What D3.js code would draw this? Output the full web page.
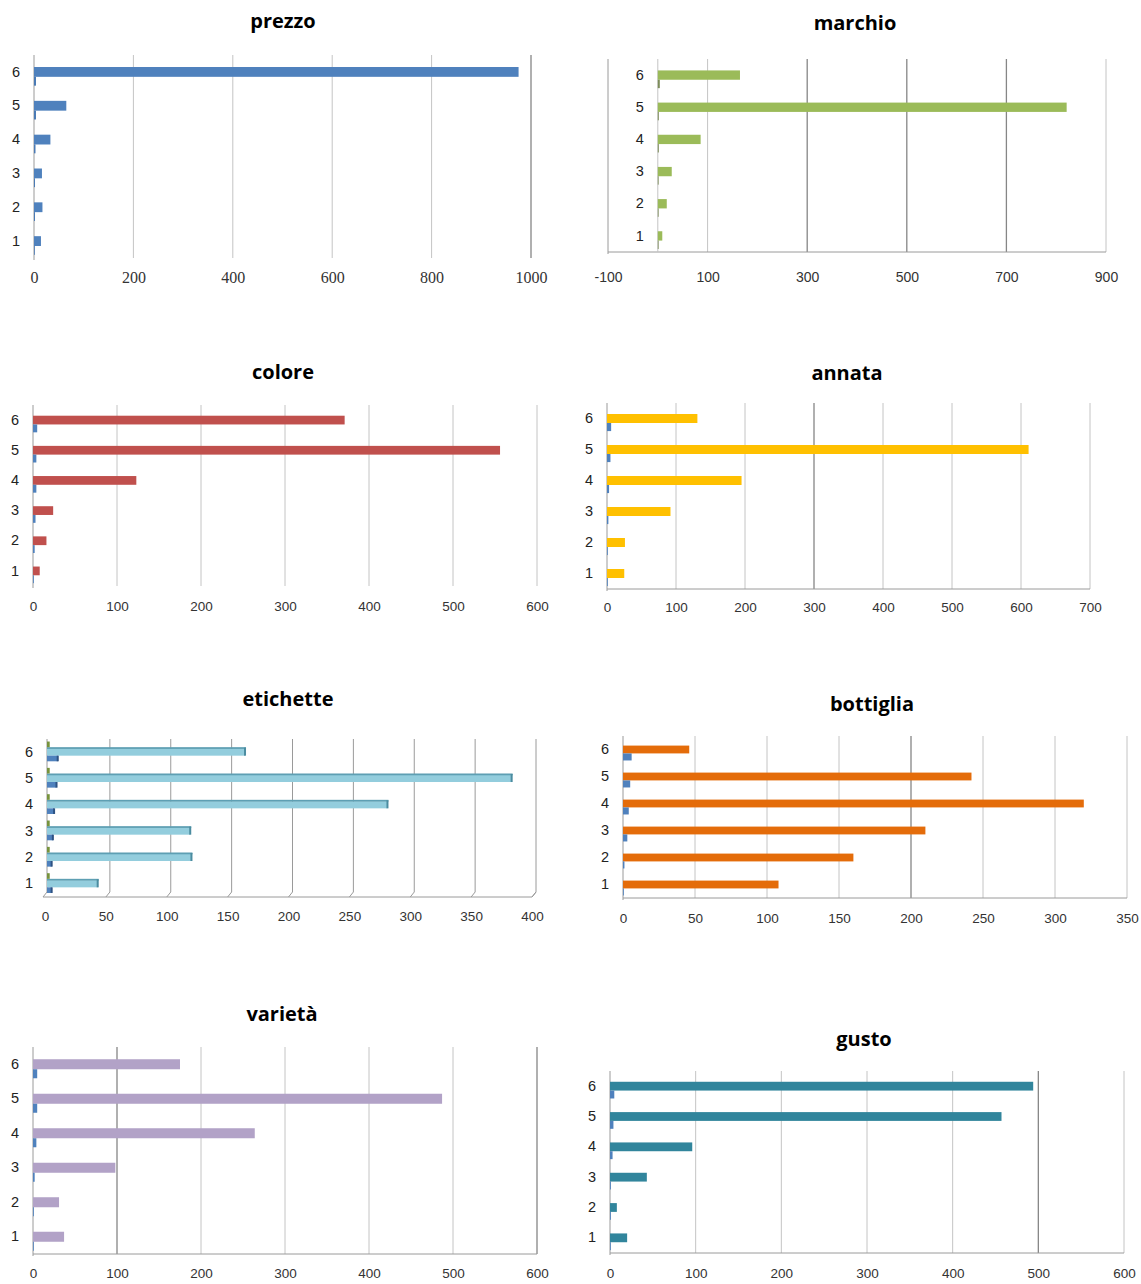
<!DOCTYPE html>
<html>
<head>
<meta charset="utf-8">
<script src="https://cdn.jsdelivr.net/npm/d3@7"></script>
<style>
  body { margin: 0; background: #fff; }
  text { font-family: "Liberation Sans", Arial, sans-serif; }
</style>
</head>
<body>
<svg id="chart" width="1141" height="1284"></svg>
<script>
// Scores 1..6
const categories = ["1", "2", "3", "4", "5", "6"];

// Main series per attribute (score 1..6)
const prezzo    = [14, 17, 16, 33, 65, 975];
const marchio   = [9, 18, 28, 86, 821, 165];
const colore    = [8, 16, 24, 123, 556, 371];
const annata    = [25, 26, 92, 195, 611, 131];
const etichette = [40, 117, 116, 278, 380, 161];
const bottiglia = [108, 160, 210, 320, 242, 46];
const varieta   = [37, 31, 98, 264, 487, 175];
const gusto     = [20, 8, 43, 96, 457, 494];

// Small companion series per attribute
const prezzoB    = [1, 2, 2, 3, 4, 4];
const marchioB   = [0, 0, 1, 2, 2, 4];
const coloreB    = [1, 2, 3, 4, 4, 5];
const annataB    = [0, 1, 2, 3, 5, 6];
const etichetteB = [3, 3, 4, 5, 7, 8];
const etichetteC = [1, 1, 1, 1, 1, 1];
const bottigliaB = [0, 1, 3, 4, 5, 6];
const varietaB   = [0, 1, 2, 4, 5, 5];
const gustoB     = [0, 1, 1, 3, 4, 5];

// Axis tick values
const ticks1000 = [0, 200, 400, 600, 800, 1000];
const ticksMarchio = [-100, 100, 300, 500, 700, 900];
const ticks600 = [0, 100, 200, 300, 400, 500, 600];
const ticks700 = [0, 100, 200, 300, 400, 500, 600, 700];
const ticks400 = [0, 50, 100, 150, 200, 250, 300, 350, 400];
const ticks350 = [0, 50, 100, 150, 200, 250, 300, 350];

const serifTicks = "'Liberation Serif', 'DejaVu Serif', serif";
const sansTicks = "'Liberation Sans', Arial, sans-serif";

const panels = [
  { title: "prezzo", main: prezzo, small: prezzoB, color: "#4F81BD", smallColor: "#4A7AB5",
    domain: [0, 1000], ticks: ticks1000, x0: 34, x1: 531, top: 55, bottom: 258,
    titleX: 283, titleY: 20, tickY: 277, dark: [1000], baseline: false, tickFont: serifTicks, tickSize: 16 },
  { title: "marchio", main: marchio, small: marchioB, color: "#9BBB59", smallColor: "#7D8C5A",
    domain: [-100, 900], ticks: ticksMarchio, x0: 608, x1: 1106, top: 59, bottom: 252,
    titleX: 855, titleY: 22, tickY: 277, dark: [300, 500, 700], baseline: true, zeroLine: true, tickFont: sansTicks, tickSize: 14 },
  { title: "colore", main: colore, small: coloreB, color: "#C0504D", smallColor: "#4F81BD",
    domain: [0, 600], ticks: ticks600, x0: 33, x1: 537, top: 405, bottom: 586,
    titleX: 283, titleY: 371, tickY: 606, dark: [], baseline: false, tickFont: sansTicks, tickSize: 13.5 },
  { title: "annata", main: annata, small: annataB, color: "#FFC000", smallColor: "#4F81BD",
    domain: [0, 700], ticks: ticks700, x0: 607, x1: 1090, top: 403, bottom: 589,
    titleX: 847, titleY: 372, tickY: 607, dark: [300], baseline: true, tickFont: sansTicks, tickSize: 13.5 },
  { title: "etichette", main: etichette, small: etichetteB, third: etichetteC, color: "#93CDDD", smallColor: "#4F81BD",
    domain: [0, 400], ticks: ticks400, x0: 49, x1: 536, top: 739, bottom: 897,
    titleX: 288, titleY: 698, tickY: 916, dark: [], baseline: true, threeD: true, tickFont: sansTicks, tickSize: 13.5 },
  { title: "bottiglia", main: bottiglia, small: bottigliaB, color: "#E46C0A", smallColor: "#4F81BD",
    domain: [0, 350], ticks: ticks350, x0: 623, x1: 1127, top: 736, bottom: 898,
    titleX: 872, titleY: 703, tickY: 918, dark: [200], baseline: true, tickFont: sansTicks, tickSize: 13.5 },
  { title: "varietà", main: varieta, small: varietaB, color: "#B2A2C7", smallColor: "#4F81BD",
    domain: [0, 600], ticks: ticks600, x0: 33, x1: 537, top: 1047, bottom: 1254,
    titleX: 282, titleY: 1013, tickY: 1273, dark: [100, 600], baseline: true, tickFont: sansTicks, tickSize: 13.5 },
  { title: "gusto", main: gusto, small: gustoB, color: "#31859C", smallColor: "#4F81BD",
    domain: [0, 600], ticks: ticks600, x0: 610, x1: 1124, top: 1071, bottom: 1253,
    titleX: 864, titleY: 1038, tickY: 1273, dark: [500], baseline: true, tickFont: sansTicks, tickSize: 13.5 }
];

const svg = d3.select("#chart");

panels.forEach(p => {
  const g = svg.append("g").attr("class", "panel");
  const x = d3.scaleLinear().domain(p.domain).range([p.x0, p.x1]);
  const y = d3.scaleBand().domain(categories.slice().reverse()).range([p.top, p.bottom]);
  const h = y.step() * 0.29;
  const zero = x(0);
  const slant = p.threeD ? 4 : 0;
  const floorY = p.bottom - (p.threeD ? 5 : 0);

  // title
  g.append("text")
    .attr("x", p.titleX).attr("y", p.titleY)
    .attr("text-anchor", "middle").attr("dominant-baseline", "central")
    .style("font-family", "'Open Sans', sans-serif")
    .style("font-weight", "bold").style("font-size", "20px").attr("fill", "#000")
    .text(p.title);

  // gridlines
  const grid = g.append("g");
  p.ticks.forEach(t => {
    if (t === p.domain[0]) return;
    const isDark = p.dark.includes(t);
    const col = p.threeD ? "#9a9a9a" : (isDark ? "#868686" : "#c4c4c4");
    if (p.threeD) {
      grid.append("path")
        .attr("d", `M${x(t)},${p.top}V${floorY}L${x(t) - slant},${p.bottom}`)
        .attr("fill", "none").attr("stroke", col).attr("stroke-width", 1);
    } else {
      grid.append("line")
        .attr("x1", x(t)).attr("x2", x(t)).attr("y1", p.top).attr("y2", p.bottom)
        .attr("stroke", col).attr("stroke-width", isDark ? 1.3 : 1);
    }
  });

  // axis lines
  const axisCol = "#9a9a9a";
  if (p.threeD) {
    g.append("path")
      .attr("d", `M${x(p.domain[0]) - 2},${p.top}V${floorY}L${x(p.domain[0]) - 2 - slant},${p.bottom}H${p.x1 - slant}L${p.x1},${floorY}`)
      .attr("fill", "none").attr("stroke", axisCol);
  } else {
    g.append("line")
      .attr("x1", p.x0).attr("x2", p.x0).attr("y1", p.top).attr("y2", p.bottom + 2)
      .attr("stroke", axisCol);
    if (p.baseline) {
      g.append("line")
        .attr("x1", p.x0).attr("x2", p.x1).attr("y1", p.bottom).attr("y2", p.bottom)
        .attr("stroke", axisCol);
    }
  }
  if (p.zeroLine) {
    g.append("line")
      .attr("x1", zero).attr("x2", zero).attr("y1", p.top).attr("y2", p.bottom)
      .attr("stroke", "#c4c4c4");
  }

  // value axis labels (plain hyphen for negatives)
  const xAxis = d3.axisBottom(x).tickValues(p.ticks).tickSize(0).tickPadding(0).tickFormat(d => String(d));
  const ax = g.append("g").attr("transform", `translate(${-slant},${p.tickY})`).call(xAxis);
  ax.select(".domain").remove();
  ax.selectAll("text")
    .attr("y", 0).attr("dy", "0.35em")
    .style("font-family", p.tickFont)
    .style("font-size", p.tickSize + "px").attr("fill", "#333");

  // category labels
  const yAxis = d3.axisLeft(y).tickSize(0).tickPadding(0);
  const ay = g.append("g").attr("transform", `translate(${zero - 14 - slant / 2},0)`).call(yAxis);
  ay.select(".domain").remove();
  ay.selectAll("text")
    .style("font-family", "'Liberation Sans', Arial, sans-serif")
    .style("font-size", "14.5px").attr("fill", "#222");

  // bars
  const bars = g.append("g");
  const baseX = p.threeD ? zero - 2 : zero;
  categories.forEach((c, i) => {
    const cy = y(c) + y.bandwidth() / 2;
    const mv = p.main[i], sv = p.small[i];
    const mw = Math.max(0, x(mv) - zero);
    const sw = Math.max(0.8, x(sv) - zero);
    if (p.threeD) {
      const mh = h * 0.92;
      // main bar with top face and end cap
      bars.append("rect").attr("x", baseX).attr("y", cy - mh / 2).attr("width", mw + 2).attr("height", mh)
        .attr("fill", p.color);
      bars.append("rect").attr("x", baseX).attr("y", cy - mh / 2 - 1.5).attr("width", mw + 3).attr("height", 1.8)
        .attr("fill", "#5e9fb3");
      bars.append("rect").attr("x", baseX + mw + 1).attr("y", cy - mh / 2 - 1).attr("width", 2).attr("height", mh + 1)
        .attr("fill", "#4b8ca0");
      // companion bar below
      const sx = x(sv) - zero;
      bars.append("rect").attr("x", baseX).attr("y", cy + mh / 2).attr("width", sx + 1).attr("height", mh * 0.8)
        .attr("fill", p.smallColor);
      bars.append("rect").attr("x", baseX + sx).attr("y", cy + mh / 2).attr("width", 2).attr("height", mh * 0.8)
        .attr("fill", "#2d5283");
      // third series sliver above
      const tx = x(p.third[i]) - zero;
      bars.append("rect").attr("x", baseX).attr("y", cy - mh / 2 - 1.5 - mh * 0.8).attr("width", tx + 1.5).attr("height", mh * 0.8)
        .attr("fill", "#77933C");
    } else {
      bars.append("rect")
        .attr("x", zero).attr("y", cy - h / 2).attr("width", mw).attr("height", h)
        .attr("fill", p.color);
      bars.append("rect")
        .attr("x", zero).attr("y", cy + h / 2).attr("width", sw).attr("height", h * 0.9)
        .attr("fill", p.smallColor);
    }
  });
});
</script>
</body>
</html>
